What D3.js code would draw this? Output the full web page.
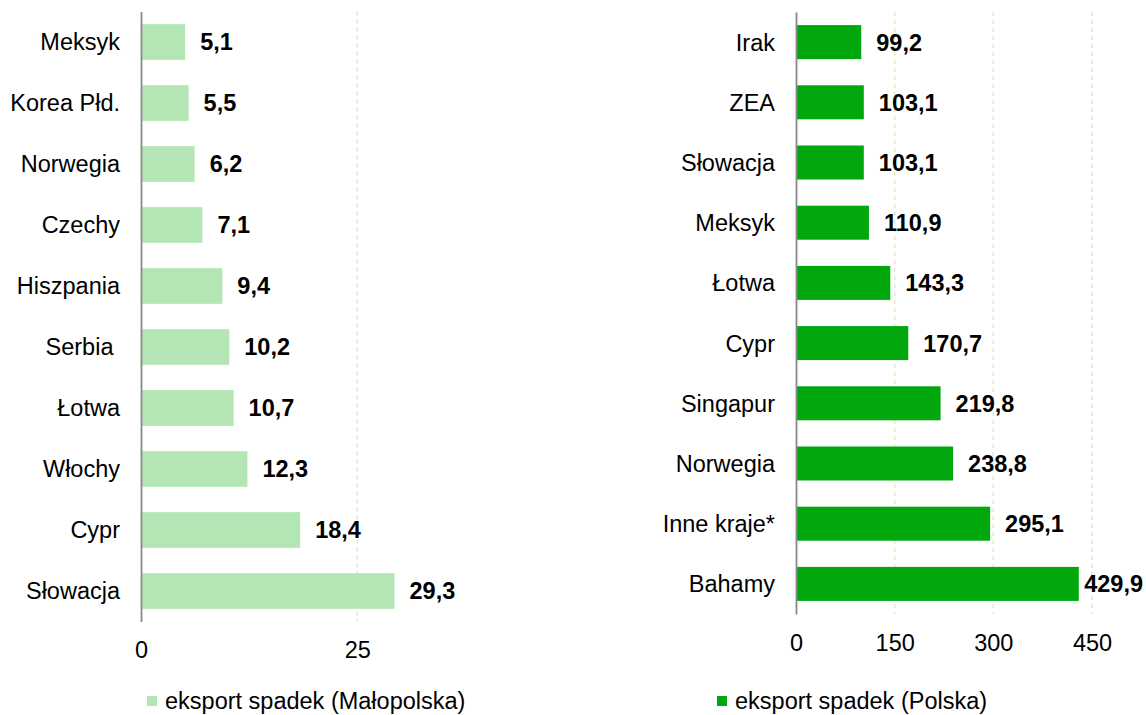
<!DOCTYPE html>
<html>
<head>
<meta charset="utf-8">
<script src="https://cdn.jsdelivr.net/npm/d3@7"></script>
<style>
  body { margin: 0; background: #fff; }
  svg { display: block; font-family: "Liberation Sans", Arial, sans-serif; }
</style>
</head>
<body>
<svg id="chart" width="1146" height="715"></svg>
<script>
// Data
const leftCategories = ["Meksyk", "Korea Płd.", "Norwegia", "Czechy", "Hiszpania", "Serbia ", "Łotwa", "Włochy", "Cypr", "Słowacja"];
const leftValues = [5.1, 5.5, 6.2, 7.1, 9.4, 10.2, 10.7, 12.3, 18.4, 29.3];
const leftTicks = [0, 25];
const leftLegend = "eksport spadek (Małopolska)";

const rightCategories = ["Irak", "ZEA", "Słowacja", "Meksyk", "Łotwa", "Cypr", "Singapur", "Norwegia", "Inne kraje*", "Bahamy"];
const rightValues = [99.2, 103.1, 103.1, 110.9, 143.3, 170.7, 219.8, 238.8, 295.1, 429.9];
const rightTicks = [0, 150, 300, 450];
const rightLegend = "eksport spadek (Polska)";

const fontSize = 23.5;
const svg = d3.select("#chart");
const fmt = (v) => v.toFixed(1).replace(".", ",");

function drawPanel(opts) {
	const { categories, values, ticks, x0, x1, domainMax, top, bottom, pad, color, legend, legendX, rightLimit } = opts;

	const x = d3.scaleLinear().domain([0, domainMax]).range([x0, x1]);
	const y = d3.scaleBand().domain(categories).range([top, bottom]).paddingInner(pad).paddingOuter(pad / 2);

	const g = svg.append("g");

	// dashed gridlines
	g.selectAll(".grid")
		.data(ticks.filter((t) => t > 0))
		.enter()
		.append("line")
		.attr("x1", (d) => x(d))
		.attr("x2", (d) => x(d))
		.attr("y1", top)
		.attr("y2", bottom)
		.attr("stroke", "#dbe6c2")
		.attr("stroke-width", 1.3)
		.attr("stroke-dasharray", "4,4");

	// bars
	g.selectAll(".bar")
		.data(values)
		.enter()
		.append("rect")
		.attr("x", x(0) + 1)
		.attr("y", (d, i) => y(categories[i]))
		.attr("width", (d) => x(d) - x(0) - 1)
		.attr("height", y.bandwidth())
		.attr("fill", color);

	// category axis
	const yAxis = g.append("g")
		.attr("transform", `translate(${x(0)},0)`)
		.call(d3.axisLeft(y).tickSize(0).tickSizeOuter(0).tickPadding(21));
	yAxis.select(".domain").attr("stroke", "#898989").attr("stroke-width", 1.8);
	yAxis.selectAll("text")
		.attr("font-size", fontSize)
		.attr("font-family", "Liberation Sans, Arial, sans-serif")
		.attr("fill", "#000")
		.attr("dy", "0.36em")
		.style("white-space", "pre");

	// value axis
	const xAxis = g.append("g")
		.attr("transform", `translate(0,${bottom})`)
		.call(d3.axisBottom(x).tickValues(ticks).tickSize(0).tickPadding(20).tickFormat((d) => d));
	xAxis.select(".domain").remove();
	xAxis.selectAll("text")
		.attr("font-size", fontSize)
		.attr("font-family", "Liberation Sans, Arial, sans-serif")
		.attr("fill", "#000");

	// value labels
	g.selectAll(".val")
		.data(values)
		.enter()
		.append("text")
		.attr("x", (d) => x(d) + 15)
		.attr("y", (d, i) => y(categories[i]) + y.bandwidth() / 2)
		.attr("dy", "0.36em")
		.attr("font-size", fontSize)
		.attr("font-weight", "bold")
		.text(fmt)
		.each(function (d) {
			const w = this.getComputedTextLength();
			const xs = +this.getAttribute("x");
			if (xs + w > rightLimit) this.setAttribute("x", Math.max(x(d) + 5, rightLimit - w));
		});

	// legend
	svg.append("rect")
		.attr("x", legendX)
		.attr("y", 696)
		.attr("width", 10)
		.attr("height", 10)
		.attr("fill", color);
	svg.append("text")
		.attr("x", legendX + 18)
		.attr("y", 709)
		.attr("font-size", fontSize)
		.text(legend);
}

drawPanel({
	categories: leftCategories,
	values: leftValues,
	ticks: leftTicks,
	x0: 141,
	x1: 357.3,
	domainMax: 25,
	top: 11.5,
	bottom: 621.5,
	pad: 0.415,
	color: "#b4e6b5",
	legend: leftLegend,
	legendX: 147,
	rightLimit: 600,
});

drawPanel({
	categories: rightCategories,
	values: rightValues,
	ticks: rightTicks,
	x0: 796,
	x1: 1092,
	domainMax: 450,
	top: 12,
	bottom: 614,
	pad: 0.435,
	color: "#00a80d",
	legend: rightLegend,
	legendX: 717,
	rightLimit: 1143,
});
</script>
</body>
</html>
